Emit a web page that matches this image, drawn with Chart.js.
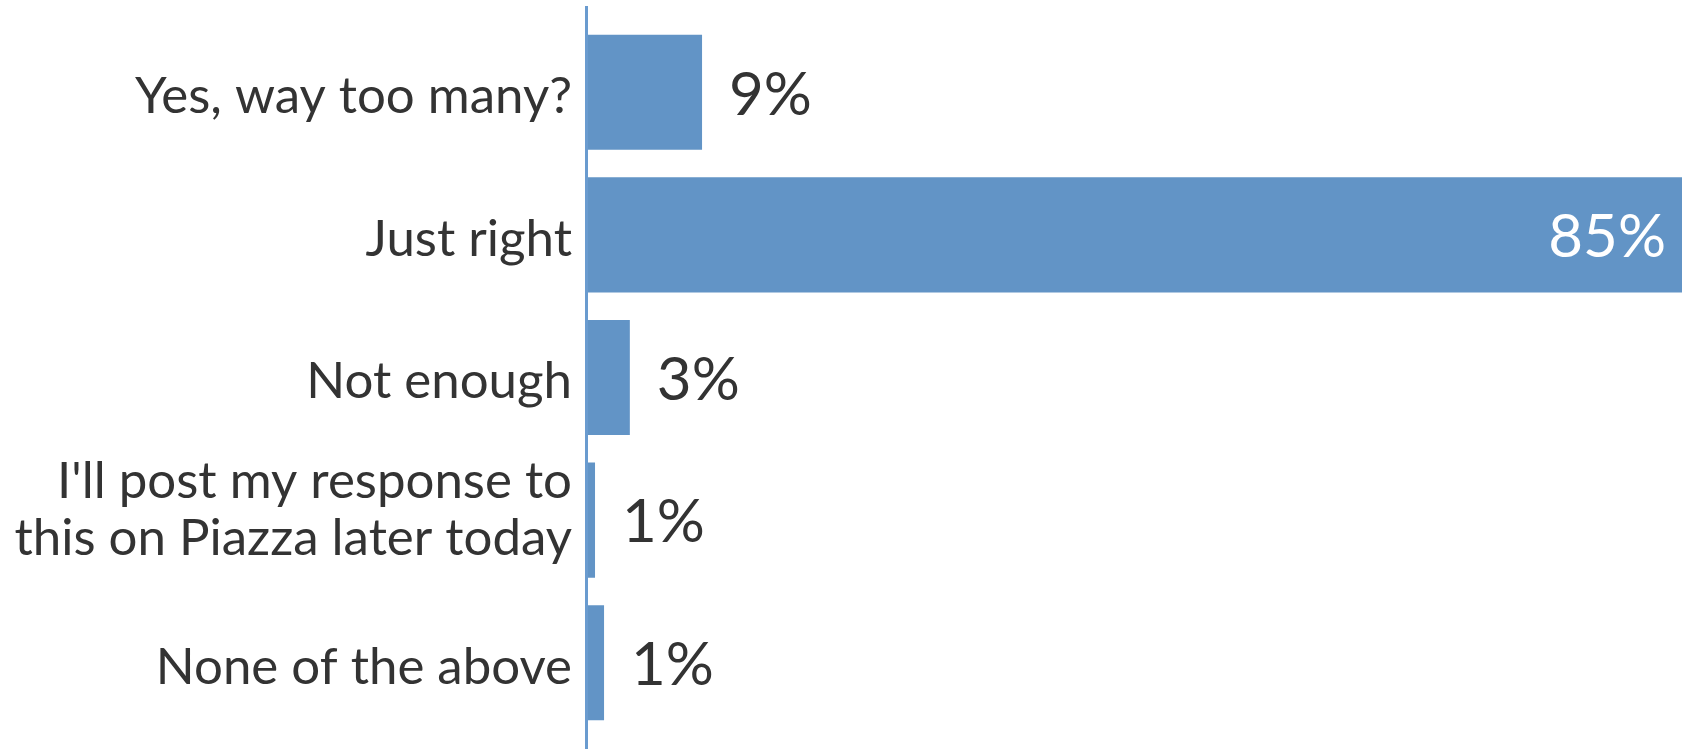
<!DOCTYPE html>
<html>
<head>
<meta charset="utf-8">
<title>Survey responses</title>
<script src="https://cdn.jsdelivr.net/npm/chart.js@4.4.1/dist/chart.umd.min.js"></script>
<style>
  html, body { margin: 0; padding: 0; background: #fff; }
  #wrap { width: 1687px; height: 749px; position: relative; }
</style>
</head>
<body>
<div id="wrap"><canvas id="poll-chart"></canvas></div>
<script>
const answers = [
  "Yes, way too many?",
  "Just right",
  "Not enough",
  ["I'll post my response to", "this on Piazza later today"],
  "None of the above"
];
const shares = [9, 85, 3.4, 0.7, 1.4];

const barColor = "#6294c6";
const axisColor = "#6a9bcf";
const textColor = "#333333";
const fontFamily = "Lato, 'Noto Sans', sans-serif";
const labelSize = 51;
const labelLineGap = 56.6;

// category names, right-aligned against the zero line
const answerLabels = {
  id: "answerLabels",
  afterDraw(chart) {
    const { ctx } = chart;
    const yScale = chart.scales.y;
    const right = chart.scales.x.getPixelForValue(0) - 14;
    const capHalf = labelSize * 0.36;
    ctx.save();
    ctx.font = `${labelSize}px ${fontFamily}`;
    ctx.fillStyle = textColor;
    ctx.textAlign = "right";
    ctx.textBaseline = "alphabetic";
    answers.forEach((answer, i) => {
      const lines = Array.isArray(answer) ? answer : [answer];
      const mid = yScale.getPixelForTick(i) + (lines.length > 1 ? -12 : 2.5);
      lines.forEach((line, j) => {
        const capMid = mid + (j - (lines.length - 1) / 2) * labelLineGap;
        ctx.fillText(line, right, capMid + capHalf);
      });
    });
    ctx.restore();
  }
};

// percent labels next to (or inside) each bar
const valueLabels = {
  id: "valueLabels",
  afterDatasetsDraw(chart) {
    const { ctx } = chart;
    const meta = chart.getDatasetMeta(0);
    ctx.save();
    ctx.font = `60px ${fontFamily}`;
    ctx.textBaseline = "middle";
    meta.data.forEach((bar, i) => {
      const text = `${Math.round(shares[i])}%`;
      if (shares[i] > 50) {
        ctx.fillStyle = "#ffffff";
        ctx.textAlign = "right";
        ctx.fillText(text, bar.x - 16, bar.y + 3);
      } else {
        ctx.fillStyle = textColor;
        ctx.textAlign = "left";
        ctx.fillText(text, bar.x + 27, bar.y + 3);
      }
    });
    ctx.restore();
  }
};

// vertical baseline at zero, running past the plot area
const zeroLine = {
  id: "zeroLine",
  afterDatasetsDraw(chart) {
    const { ctx } = chart;
    const x = chart.scales.x.getPixelForValue(0);
    ctx.save();
    ctx.strokeStyle = axisColor;
    ctx.lineWidth = 3;
    ctx.beginPath();
    ctx.moveTo(x + 0.5, 6);
    ctx.lineTo(x + 0.5, chart.height);
    ctx.stroke();
    ctx.restore();
  }
};

const ctx = document.getElementById("poll-chart").getContext("2d");

new Chart(ctx, {
  type: "bar",
  data: {
    labels: answers,
    datasets: [
      {
        data: shares,
        backgroundColor: barColor,
        borderWidth: 0,
        categoryPercentage: 1,
        barPercentage: 0.807
      }
    ]
  },
  options: {
    indexAxis: "y",
    responsive: true,
    maintainAspectRatio: false,
    animation: false,
    layout: {
      padding: { top: 21, bottom: 15, left: 0, right: 5 }
    },
    plugins: {
      legend: { display: false },
      tooltip: { enabled: false }
    },
    scales: {
      x: {
        display: false,
        min: 0,
        max: 85
      },
      y: {
        grid: { display: false },
        border: { display: false },
        ticks: { display: false },
        afterFit(scale) {
          scale.width = 586;
          scale.paddingTop = 0;
          scale.paddingBottom = 0;
        }
      }
    }
  },
  plugins: [valueLabels, zeroLine, answerLabels]
});
</script>
</body>
</html>
